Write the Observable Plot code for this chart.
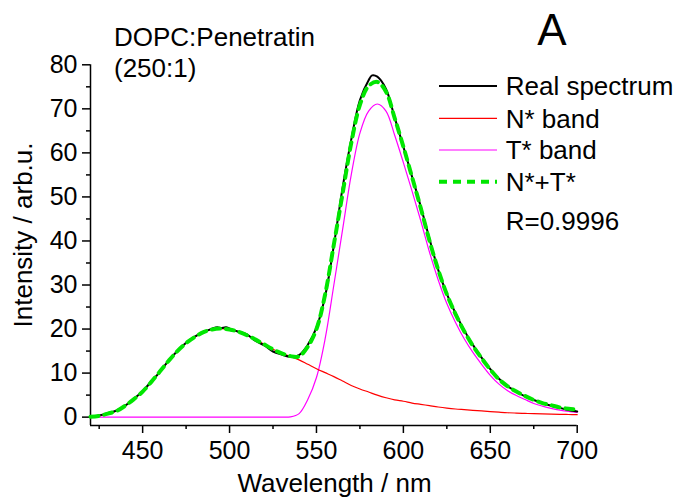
<!DOCTYPE html>
<html>
<head>
<meta charset="utf-8">
<script src="https://cdn.jsdelivr.net/npm/d3@7"></script>
<script src="https://cdn.jsdelivr.net/npm/@observablehq/plot@0.6"></script>
<style>
  html, body { margin: 0; padding: 0; background: #fff; }
  #wrap { position: relative; width: 675px; height: 497px; overflow: hidden; }
  #wrap svg.overlay { position: absolute; left: 0; top: 0; pointer-events: none; }
</style>
</head>
<body>
<div id="wrap"></div>
<script>
// ---- data ----
const xDomain = [420, 700];
const yDomain = [-1.9, 80];
const xTicks = [450, 500, 550, 600, 650, 700];
const xMinorTicks = [425, 475, 525, 575, 625, 675];
const yTicks = [0, 10, 20, 30, 40, 50, 60, 70, 80];
const yMinorTicks = [5, 15, 25, 35, 45, 55, 65, 75];

const wavelength = [420,425,430,435,440,445,450,455,460,465,470,475,480,485,490,495,500,505,510,515,520,525,530,535,540,545,550,555,560,565,570,575,580,585,590,595,600,605,610,615,620,625,630,635,640,645,650,655,660,665,670,675,680,685,690,695,700];

const nBand = [0.1,0.3,0.8,1.4,2.6,4.1,5.8,8.0,10.4,12.8,15.0,16.8,18.2,19.3,19.9,20.1,19.9,19.4,18.6,17.6,16.5,15.4,14.5,13.8,13.0,12.0,11.0,10.1,9.2,8.2,7.2,6.4,5.7,5.0,4.4,3.9,3.6,3.2,2.9,2.6,2.3,2.05,1.85,1.7,1.55,1.4,1.25,1.12,1.0,0.92,0.85,0.78,0.72,0.67,0.63,0.6,0.57];

const tBand = [0,0,0,0,0,0,0,0,0,0,0,0,0,0,0,0,0,0,0,0,0,0,0,0.05,0.8,4.0,9.0,17.8,30.0,42.5,55.0,64.5,69.5,71.1,69.5,64.0,57.8,51.3,44.6,37.5,31.2,25.8,21.5,17.8,14.7,12.0,9.5,7.5,6.0,4.9,4.0,3.1,2.5,2.0,1.6,1.3,1.1];

const fitSum = [0.1,0.3,0.8,1.4,2.6,4.1,5.8,8.0,10.4,12.8,15.0,16.8,18.2,19.3,19.9,20.1,19.9,19.4,18.6,17.6,16.5,15.4,14.5,13.85,13.8,16.0,20.0,27.9,39.2,50.7,62.2,70.9,75.2,76.1,73.9,67.9,61.4,54.5,47.5,40.1,33.5,27.9,23.4,19.5,16.2,13.4,10.8,8.6,7.0,5.8,4.8,3.9,3.2,2.7,2.2,1.9,1.7];

const realWavelength = [420,425,430,435,440,445,450,455,460,465,470,475,480,485,490,493,495,498,500,505,510,515,520,525,530,535,540,545,550,555,560,565,570,575,580,582,585,590,595,600,605,610,615,620,625,630,635,640,645,650,655,660,665,670,675,680,685,690,695,700];
const realSpectrum = [0.0,0.4,0.9,1.5,2.6,4.2,5.9,8.1,10.3,12.9,15.0,16.9,18.3,19.3,20.1,20.4,20.2,20.4,20.1,19.4,18.8,17.3,16.3,14.9,14.2,13.7,14.1,16.4,20.3,27.5,39.0,52.0,63.0,72.0,76.5,77.6,77.3,74.5,68.0,61.4,54.6,47.8,40.5,33.5,28.0,23.6,19.7,16.4,13.5,10.9,8.7,7.0,5.8,4.7,3.9,3.2,2.6,2.1,1.6,1.3];

const legendLabels = ["Real spectrum", "N* band", "T* band", "N*+T*"];
const legendColors = ["#000000", "#ff0000", "#ff00ff", "#00e600"];

const fitData = wavelength.map((w, i) => ({w, n: nBand[i], t: tBand[i], s: fitSum[i]}));
const realData = realWavelength.map((w, i) => ({w, v: realSpectrum[i]}));

const font = "'Liberation Sans', Arial, Helvetica, sans-serif";

const chart = Plot.plot({
  width: 675,
  height: 497,
  marginLeft: 90,
  marginRight: 98.3,
  marginTop: 64.3,
  marginBottom: 72,
  x: {domain: xDomain},
  y: {domain: yDomain},
  style: {fontFamily: font, background: "white", color: "black", overflow: "visible"},
  marks: [
    Plot.ruleY([yDomain[0]], {x1: xDomain[0], x2: xDomain[1], stroke: "black", strokeWidth: 1.5}),
    Plot.ruleX([xDomain[0]], {y1: yDomain[0], y2: yDomain[1], stroke: "black", strokeWidth: 1.5}),
    Plot.axisX({ticks: xTicks, tickSize: 8, tickPadding: 8, fontSize: 25, label: null, strokeWidth: 1.5, tickFormat: d3.format("d")}),
    Plot.axisX({ticks: xMinorTicks, tickSize: 4, tickFormat: () => "", label: null, strokeWidth: 1.5}),
    Plot.axisY({ticks: yTicks, tickSize: 8, tickPadding: 5, fontSize: 25, label: null, strokeWidth: 1.5, tickFormat: d3.format("d")}),
    Plot.axisY({ticks: yMinorTicks, tickSize: 4, tickFormat: () => "", label: null, strokeWidth: 1.5}),
    Plot.line(fitData, {x: "w", y: "t", stroke: legendColors[2], strokeWidth: 1.2, curve: "catmull-rom"}),
    Plot.line(fitData, {x: "w", y: "n", stroke: legendColors[1], strokeWidth: 1.2, curve: "catmull-rom"}),
    Plot.line(realData, {x: "w", y: "v", stroke: legendColors[0], strokeWidth: 2, curve: "catmull-rom"}),
    Plot.line(fitData, {x: "w", y: "s", stroke: legendColors[3], strokeWidth: 4, strokeDasharray: "8,6", curve: "catmull-rom"})
  ]
});

const wrap = document.getElementById("wrap");
wrap.appendChild(chart);

// overlay with titles, annotations and legend
const ov = d3.select(wrap).append("svg")
  .attr("class", "overlay")
  .attr("width", 675).attr("height", 497)
  .style("font-family", font);

ov.append("text").attr("x", 114).attr("y", 46).attr("font-size", 26).text("DOPC:Penetratin");
ov.append("text").attr("x", 114).attr("y", 77).attr("font-size", 26).text("(250:1)");
ov.append("text").attr("x", 552).attr("y", 45).attr("font-size", 44).attr("text-anchor", "middle").text("A");

ov.append("text").attr("x", 334.5).attr("y", 492).attr("font-size", 26).attr("text-anchor", "middle").text("Wavelength / nm");
ov.append("text").attr("transform", "translate(32,235) rotate(-90)").attr("font-size", 26).attr("text-anchor", "middle").text("Intensity / arb.u.");

const legendY = [86, 118.3, 150, 181.7];
legendLabels.forEach((lab, i) => {
  const y = legendY[i];
  const ln = ov.append("line").attr("x1", 439).attr("x2", 497).attr("y1", y).attr("y2", y)
    .attr("stroke", legendColors[i]).attr("stroke-width", i === 0 ? 2 : (i === 3 ? 4 : 1.2));
  if (i === 3) ln.attr("stroke-dasharray", "8,6");
  ov.append("text").attr("x", 505.7).attr("y", y + 9.3).attr("font-size", 26).text(lab);
});
ov.append("text").attr("x", 505.7).attr("y", 230).attr("font-size", 26).text("R=0.9996");
</script>
</body>
</html>
